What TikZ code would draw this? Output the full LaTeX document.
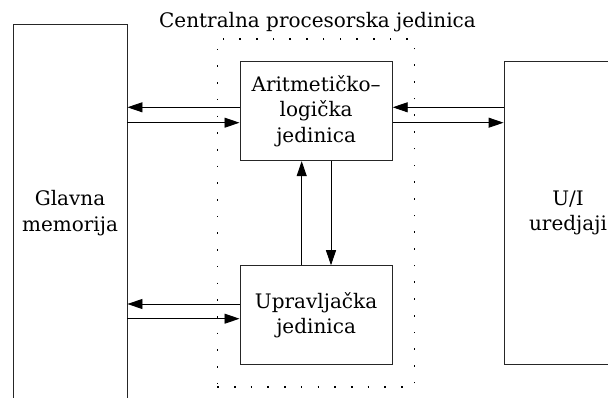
\documentclass[tikz,border=0pt]{standalone}
\usepackage{fontspec}
\setmainfont{DejaVu Serif}
\usetikzlibrary{arrows.meta}
\begin{document}
\begin{tikzpicture}[x=1pt,y=-1pt,
  txt/.style={font=\fontsize{20}{25.5}\selectfont},
  box/.style={txt, draw=black!85, line width=0.9pt, inner sep=0pt, align=center},
  cpubox/.style={draw, line width=1.6pt, dash pattern=on 1.6pt off 15.1pt, inner sep=0pt},
  arr/.style={line width=0.9pt, -{Triangle[length=15pt,width=10pt]}}]
\useasboundingbox (0,0) rectangle (608,398);
\clip (0,0) rectangle (608,398);
\node[cpubox, minimum width=197pt, minimum height=347.7pt] (cpu) at (315.8,212.85) {};
\node[txt, anchor=base] (title) at (317.5,27.3) {Centralna procesorska jedinica};
\node[box, minimum width=114pt, minimum height=378pt] (mem) at (70,213) {Glavna\\memorija};
\node[box, minimum width=128pt, minimum height=302.6pt] (io) at (568,213) {U/I\\uredjaji};
\node[box, minimum width=152.3pt, minimum height=99pt] (alu) at (316.1,111.2) {Aritmetičko–\\logička\\jedinica};
\node[box, minimum width=152.3pt, minimum height=98.6pt] (cu) at (316.1,315) {Upravljačka\\jedinica};
\draw[arr] (alu.west |- 0,107.3) -- (mem.east |- 0,107.3);
\draw[arr] (mem.east |- 0,122.7) -- (alu.west |- 0,122.7);
\draw[arr] (io.west |- 0,107.3) -- (alu.east |- 0,107.3);
\draw[arr] (alu.east |- 0,122.7) -- (io.west |- 0,122.7);
\draw[arr] (cu.west |- 0,304) -- (mem.east |- 0,304);
\draw[arr] (mem.east |- 0,318.7) -- (cu.west |- 0,318.7);
\draw[arr] (cu.north -| 301.7,0) -- (alu.south -| 301.7,0);
\draw[arr] (alu.south -| 331,0) -- (cu.north -| 331,0);
\end{tikzpicture}
\end{document}
